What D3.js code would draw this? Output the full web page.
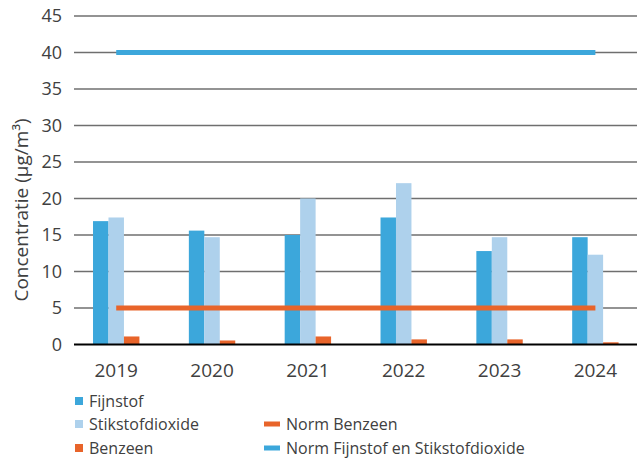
<!DOCTYPE html>
<html>
<head>
<meta charset="utf-8">
<script src="https://cdn.jsdelivr.net/npm/d3@7"></script>
<style>
  body { margin: 0; background: #fff; }
  svg text { font-family: "Open Sans", "Noto Sans", sans-serif; fill: #404040; }
</style>
</head>
<body>
<div id="chart"></div>
<script>
const years = ["2019", "2020", "2021", "2022", "2023", "2024"];
const fijnstof = [16.9, 15.6, 15.0, 17.4, 12.8, 14.7];
const stikstofdioxide = [17.4, 14.7, 20.0, 22.1, 14.7, 12.3];
const benzeen = [1.1, 0.55, 1.1, 0.7, 0.7, 0.3];
const normBenzeen = [5, 5, 5, 5, 5, 5];
const normFijnstof = [40, 40, 40, 40, 40, 40];
const yTicks = [0, 5, 10, 15, 20, 25, 30, 35, 40, 45];

const width = 640, height = 462;

const barSeries = [
    {name: "Fijnstof", values: fijnstof, color: "#3ca7db"},
    {name: "Stikstofdioxide", values: stikstofdioxide, color: "#aed1ec"},
    {name: "Benzeen", values: benzeen, color: "#e8642a"}
];
const lineSeries = [
    {name: "Norm Benzeen", values: normBenzeen, color: "#e8642a"},
    {name: "Norm Fijnstof en Stikstofdioxide", values: normFijnstof, color: "#3ca7db"}
];

const svg = d3.select("#chart").append("svg")
    .attr("width", width)
    .attr("height", height);

const x = d3.scaleBand().domain(years).range([68.3, 643.3]);
const y = d3.scaleLinear().domain([0, 45]).range([344.5, 16]);
const inner = d3.scaleBand()
    .domain(barSeries.map(d => d.name))
    .range([x.bandwidth() / 2 - 23.2, x.bandwidth() / 2 + 23.2]);

// gridlines
svg.append("g")
    .selectAll("line")
    .data(yTicks.filter(d => d > 0))
    .join("line")
    .attr("x1", 74).attr("x2", 637)
    .attr("y1", d => y(d)).attr("y2", d => y(d))
    .attr("stroke", "#6f6f6f")
    .attr("stroke-width", 1.3);

// y tick labels
svg.append("g")
    .selectAll("text")
    .data(yTicks)
    .join("text")
    .attr("x", 62)
    .attr("y", d => y(d))
    .attr("dy", "0.35em")
    .attr("text-anchor", "end")
    .attr("font-size", 18)
    .text(d => d);

// bars
svg.append("g")
    .selectAll("g")
    .data(barSeries)
    .join("g")
    .attr("fill", d => d.color)
    .selectAll("rect")
    .data(s => s.values.map((v, i) => ({name: s.name, year: years[i], value: v})))
    .join("rect")
    .attr("x", d => x(d.year) + inner(d.name))
    .attr("width", inner.bandwidth())
    .attr("y", d => y(d.value))
    .attr("height", d => y(0) - y(d.value));

// baseline
svg.append("line")
    .attr("x1", 74).attr("x2", 637)
    .attr("y1", y(0)).attr("y2", y(0))
    .attr("stroke", "#000")
    .attr("stroke-width", 2.2);

// norm lines
const line = d3.line()
    .x((d, i) => x(years[i]) + x.bandwidth() / 2)
    .y(d => y(d));

svg.append("g")
    .selectAll("path")
    .data(lineSeries)
    .join("path")
    .attr("d", d => line(d.values))
    .attr("fill", "none")
    .attr("stroke", d => d.color)
    .attr("stroke-width", 5);

// x labels
svg.append("g")
    .selectAll("text")
    .data(years)
    .join("text")
    .attr("x", d => x(d) + x.bandwidth() / 2)
    .attr("y", 377)
    .attr("text-anchor", "middle")
    .attr("font-size", 19)
    .text(d => d);

// y title
svg.append("text")
    .attr("transform", "translate(28,210) rotate(-90)")
    .attr("text-anchor", "middle")
    .attr("font-size", 19)
    .text("Concentratie (µg/m³)");

// legend
const legendItems = [
    {name: "Fijnstof", color: "#3ca7db", type: "rect", lx: 75, ly: 401},
    {name: "Stikstofdioxide", color: "#aed1ec", type: "rect", lx: 75, ly: 424},
    {name: "Benzeen", color: "#e8642a", type: "rect", lx: 75, ly: 448},
    {name: "Norm Benzeen", color: "#e8642a", type: "line", lx: 264, ly: 424},
    {name: "Norm Fijnstof en Stikstofdioxide", color: "#3ca7db", type: "line", lx: 264, ly: 448}
];

const legend = svg.append("g")
    .selectAll("g")
    .data(legendItems)
    .join("g")
    .attr("transform", d => `translate(${d.lx},${d.ly})`);

legend.filter(d => d.type === "rect")
    .append("rect")
    .attr("x", 0).attr("y", -4)
    .attr("width", 8).attr("height", 8)
    .attr("fill", d => d.color);

legend.filter(d => d.type === "line")
    .append("rect")
    .attr("x", 0).attr("y", -2.5)
    .attr("width", 16).attr("height", 5)
    .attr("fill", d => d.color);

legend.append("text")
    .attr("x", d => d.type === "rect" ? 14 : 22)
    .attr("dy", "0.35em")
    .attr("font-size", 16)
    .text(d => d.name);
</script>
</body>
</html>
